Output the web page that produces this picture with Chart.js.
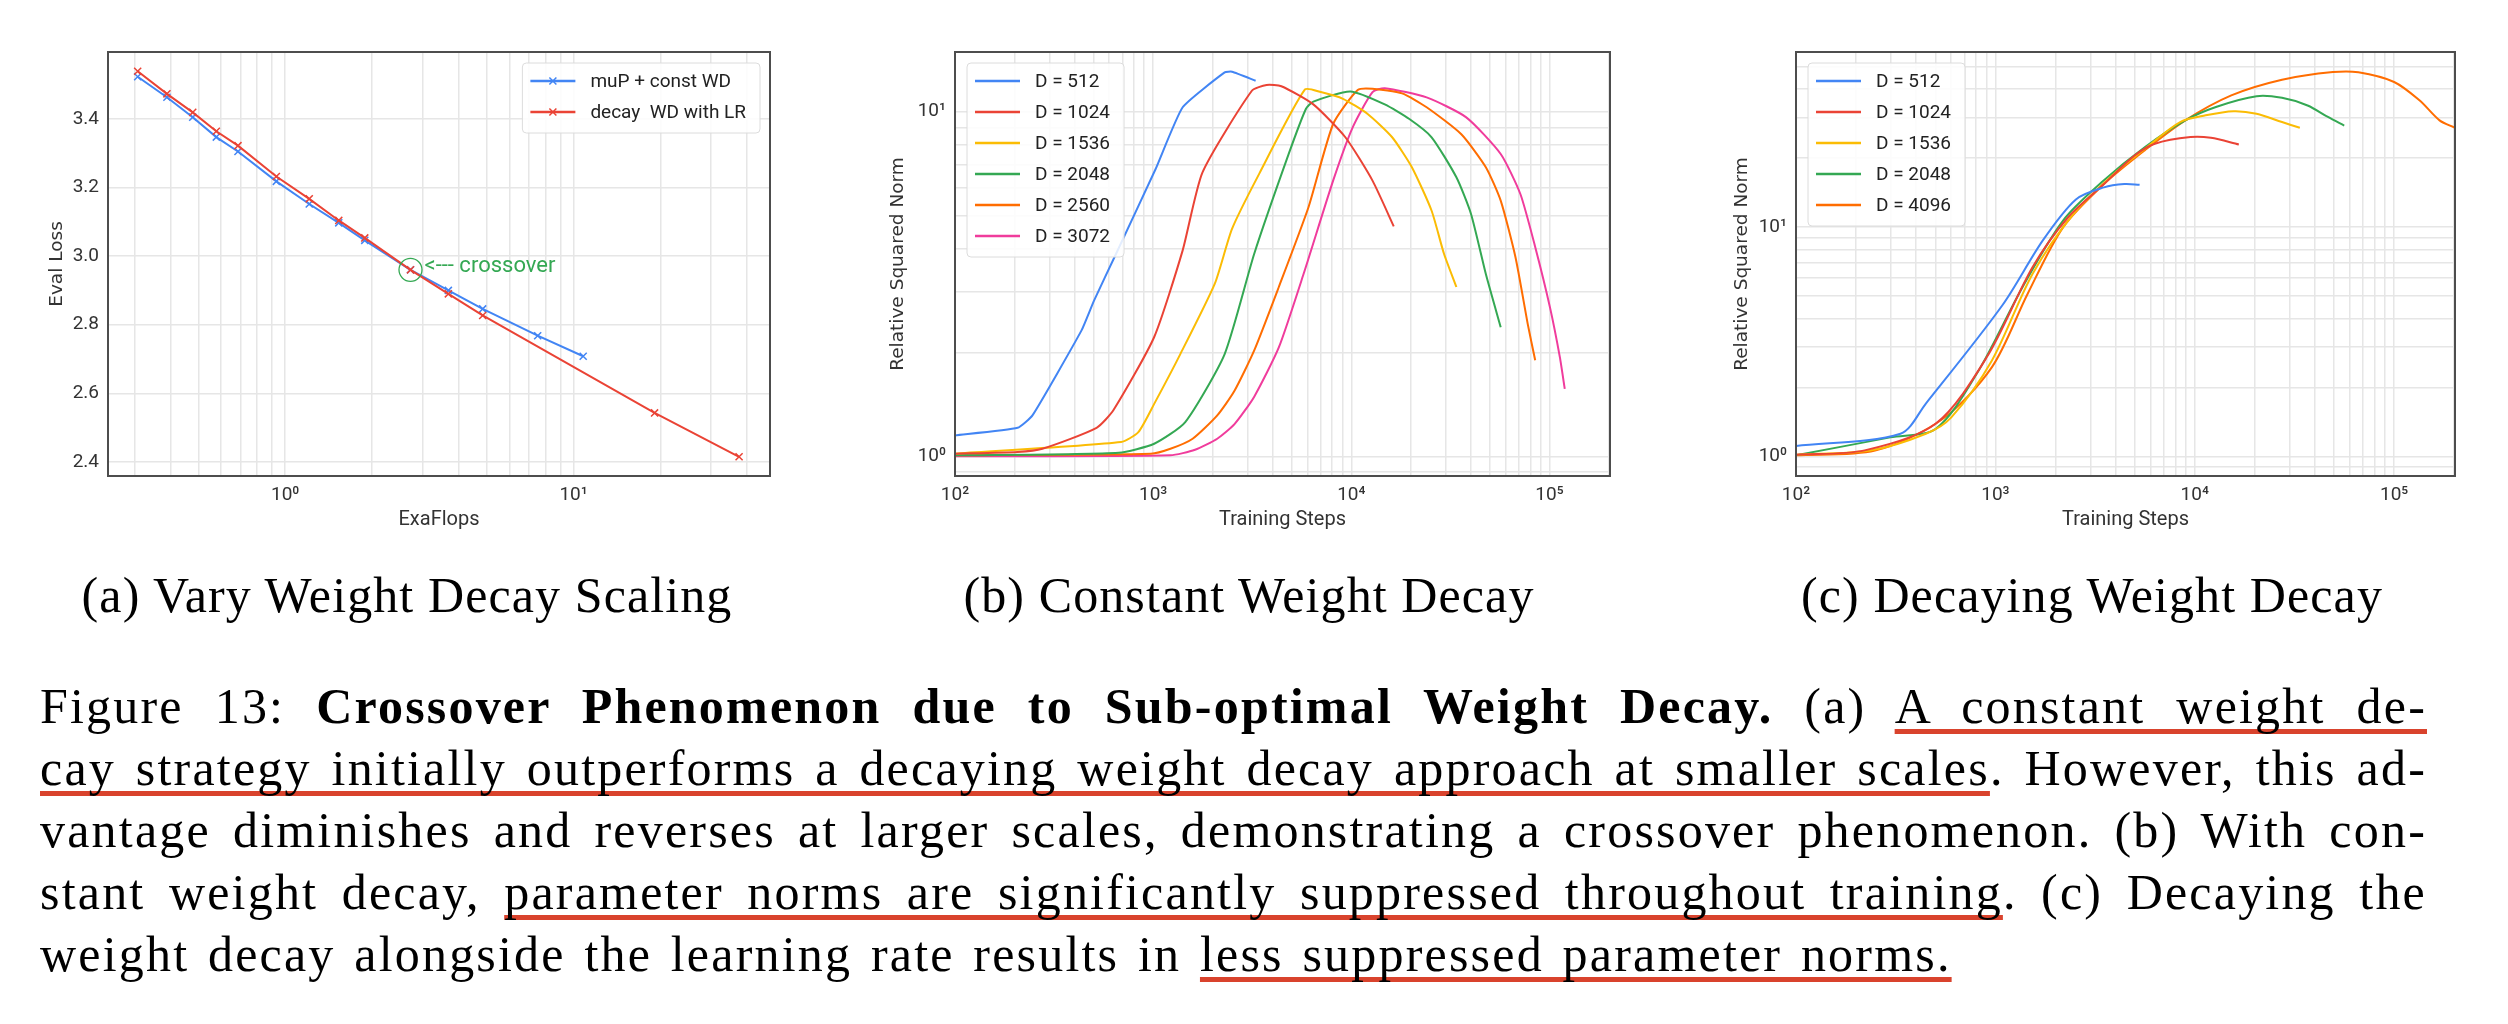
<!DOCTYPE html>
<html>
<head>
<meta charset="utf-8">
<script src="https://cdn.jsdelivr.net/npm/chart.js@4.4.1/dist/chart.umd.min.js"></script>
<style>
  body { margin: 0; width: 2508px; height: 1024px; background: #fff; position: relative; overflow: hidden; }
  canvas { position: absolute; top: 0; }
  .cap { position: absolute; top: 570px; font-family: "Liberation Serif", serif; font-size: 50px; line-height: 50px; letter-spacing: 1.1px; white-space: nowrap; transform: translateX(-50%); color: #000; }
  #text { position: absolute; left: 40px; top: 675px; width: 2387px; font-family: "Liberation Serif", serif; font-size: 50px; line-height: 62px; letter-spacing: 2.2px; word-spacing: 4px; color: #000; }
  #text div { text-align: justify; text-align-last: justify; }
  #text div.last { text-align: left; text-align-last: left; }
  .u { text-decoration: underline; text-decoration-color: #d9432d; text-decoration-thickness: 5px; text-underline-offset: 6px; text-decoration-skip-ink: none; }
</style>
</head>
<body>
<canvas id="chartA" width="790" height="560" style="left:10px"></canvas>
<canvas id="chartB" width="780" height="560" style="left:860px"></canvas>
<canvas id="chartC" width="790" height="560" style="left:1700px"></canvas>

<div class="cap" style="left:407px">(a) Vary Weight Decay Scaling</div>
<div class="cap" style="left:1249px">(b) Constant Weight Decay</div>
<div class="cap" style="left:2092px">(c) Decaying Weight Decay</div>

<div id="text">
  <div>Figure 13: <b>Crossover Phenomenon due to Sub-optimal Weight Decay.</b> (a) <span class="u">A constant weight de-</span></div>
  <div><span class="u">cay strategy initially outperforms a decaying weight decay approach at smaller scales</span>. However, this ad-</div>
  <div>vantage diminishes and reverses at larger scales, demonstrating a crossover phenomenon. (b) With con-</div>
  <div>stant weight decay, <span class="u">parameter norms are significantly suppressed throughout training</span>. (c) Decaying the</div>
  <div class="last">weight decay alongside the learning rate results in <span class="u">less suppressed parameter norms.</span></div>
</div>

<script>
// (a) eval loss vs compute
const flopsConst = [0.308, 0.389, 0.478, 0.577, 0.686, 0.932, 1.212, 1.534, 1.888, 2.72, 3.68, 4.84, 7.51, 10.8];
const lossConst  = [3.523, 3.463, 3.405, 3.347, 3.305, 3.218, 3.152, 3.097, 3.046, 2.960, 2.900, 2.846, 2.768, 2.708];
const flopsDecay = [0.308, 0.389, 0.478, 0.577, 0.686, 0.932, 1.212, 1.534, 1.888, 2.72, 3.68, 4.84, 19.1, 37.5];
const lossDecay  = [3.539, 3.473, 3.419, 3.364, 3.322, 3.232, 3.167, 3.104, 3.053, 2.960, 2.890, 2.827, 2.543, 2.415];
const lossTicks = [2.4, 2.6, 2.8, 3.0, 3.2, 3.4];
const crossover = [2.72, 2.96];

// (b) constant weight decay
const stepsB512  = [100, 207, 246, 435, 503, 650, 1029, 1409, 2295, 2500, 3289];
const normB512   = [1.15, 1.21, 1.315, 2.32, 2.83, 3.87, 6.82, 10.3, 13.0, 13.06, 12.3];
const stepsB1024 = [100, 207, 276, 518, 632, 1012, 1409, 1774, 3148, 3736, 4436, 6430, 9330, 12790, 16370];
const normB1024  = [1.018, 1.03, 1.052, 1.21, 1.365, 2.22, 3.96, 6.67, 11.5, 11.95, 11.85, 10.5, 8.43, 6.31, 4.65];
const stepsB1536 = [100, 689, 842, 1012, 1371, 2047, 2500, 3427, 5836, 7015, 9077, 12090, 16070, 20210, 25420, 29350, 33900];
const normB1536  = [1.018, 1.10, 1.176, 1.42, 1.98, 3.17, 4.57, 6.6, 11.6, 11.4, 10.9, 9.85, 8.43, 6.9, 5.16, 3.87, 3.10];
const stepsB2048 = [100, 670, 1012, 1452, 2295, 3236, 4830, 5905, 6430, 9885, 14750, 19630, 25420, 33900, 40180, 47730, 56730];
const normB2048  = [1.007, 1.025, 1.088, 1.257, 1.98, 3.87, 7.54, 10.2, 10.7, 11.45, 10.5, 9.52, 8.43, 6.45, 5.05, 3.38, 2.37];
const stepsB2560 = [100, 973, 1222, 1582, 2106, 2573, 3236, 4306, 6078, 8094, 10770, 12790, 18030, 23990, 35890, 47730, 56730, 67360, 77680, 84700];
const normB2560  = [1.007, 1.018, 1.052, 1.125, 1.315, 1.55, 2.03, 3.1, 5.28, 9.21, 11.56, 11.65, 11.3, 10.3, 8.6, 6.9, 5.52, 3.78, 2.42, 1.90];
const stepsB3072 = [100, 1222, 1627, 2106, 2573, 3236, 4306, 5740, 8094, 10160, 12790, 14750, 23990, 38020, 56730, 71290, 84700, 100500, 112800, 119400];
const normB3072  = [1.0, 1.007, 1.045, 1.125, 1.24, 1.49, 2.07, 3.38, 6.31, 9.01, 11.4, 11.7, 11.0, 9.63, 7.54, 5.77, 4.05, 2.71, 1.94, 1.57];

// (c) decaying weight decay
const stepsC512  = [100, 334, 448, 1082, 1730, 2535, 3505, 4437, 5290];
const normC512   = [1.11, 1.255, 1.70, 4.55, 8.75, 13.2, 14.9, 15.4, 15.3];
const stepsC1024 = [100, 221, 503, 906, 1538, 2321, 3505, 4990, 6310, 9520, 12050, 16640];
const normC1024  = [1.017, 1.062, 1.39, 2.71, 6.69, 11.06, 15.4, 20.5, 23.1, 24.7, 24.5, 22.9];
const stepsC1536 = [100, 235, 448, 601, 961, 1538, 2460, 3945, 5610, 8450, 11350, 15670, 20420, 27390, 33660];
const normC1536  = [1.017, 1.06, 1.255, 1.48, 2.62, 6.26, 11.4, 17.1, 21.9, 28.7, 30.7, 32.0, 31.2, 28.7, 27.1];
const stepsC2048 = [100, 297, 503, 806, 1368, 2190, 3505, 5610, 8970, 12770, 20420, 27390, 36810, 46560, 56200];
const normC2048  = [1.01, 1.21, 1.32, 2.29, 5.47, 10.7, 16.0, 22.3, 29.2, 33.4, 37.2, 36.6, 33.9, 30.2, 27.7];
const stepsC4096 = [100, 249, 535, 961, 1452, 2190, 3505, 5610, 8970, 15250, 27390, 49320, 66220, 100000, 134000, 169000, 202000];
const normC4096  = [1.01, 1.06, 1.44, 2.45, 5.12, 10.0, 15.4, 21.6, 29.2, 37.5, 43.9, 47.4, 47.3, 42.9, 35.7, 29.2, 27.1];

const BLUE = '#4285F4', RED = '#EA4335', YELLOW = '#FBBC04', GREEN = '#34A853', ORANGE = '#FF6D01', PINK = '#F03C9C';

Chart.defaults.font.family = 'Roboto';
Chart.defaults.color = '#333';

// helpers
const SUP = { '-': '⁻', '0': '⁰', '1': '¹', '2': '²', '3': '³', '4': '⁴', '5': '⁵', '6': '⁶', '7': '⁷', '8': '⁸', '9': '⁹' };
function isPow10(v) {
  const e = Math.round(Math.log10(v));
  return Math.abs(v - Math.pow(10, e)) < 1e-9 * v;
}
function powLabel(v) {
  if (!isPow10(v)) return '';
  return '10' + String(Math.round(Math.log10(v))).split('').map(c => SUP[c]).join('');
}
function logTicks(min, max) {
  const t = [];
  for (let e = Math.floor(Math.log10(min)); e <= Math.ceil(Math.log10(max)); e++) {
    for (let m = 1; m <= 9; m++) {
      const v = m * Math.pow(10, e);
      if (v >= min * 0.999 && v <= max * 1.001) t.push({ value: v });
    }
  }
  return t;
}
function pts(xs, ys) {
  return xs.map((x, i) => ({ x: x, y: ys[i] }));
}

// frame around the plot area
const frame = {
  id: 'frame',
  afterDraw(chart) {
    const { ctx, chartArea: a } = chart;
    ctx.save();
    ctx.strokeStyle = '#4d4d4d';
    ctx.lineWidth = 2;
    ctx.strokeRect(a.left, a.top, a.width, a.height);
    ctx.restore();
  }
};

// legend drawn inside the plot, matplotlib style
const boxLegend = {
  id: 'boxLegend',
  afterDatasetsDraw(chart, args, o) {
    const { ctx, chartArea: a } = chart;
    const sets = chart.data.datasets;
    ctx.save();
    ctx.font = '19px Roboto';
    const tw = Math.max(...sets.map(d => ctx.measureText(d.label).width));
    const w = 68 + tw + 14, h = sets.length * 31 + 8;
    const x = o.side === 'right' ? a.right - 10 - w : a.left + 12;
    const y = a.top + 11;
    ctx.beginPath();
    ctx.roundRect(x, y, w, h, 4);
    ctx.fillStyle = 'rgba(255,255,255,0.85)';
    ctx.fill();
    ctx.strokeStyle = '#dcdcdc';
    ctx.lineWidth = 1;
    ctx.stroke();
    sets.forEach((d, i) => {
      const cy = y + 18 + i * 31;
      ctx.strokeStyle = d.borderColor;
      ctx.lineWidth = 2.5;
      ctx.beginPath();
      ctx.moveTo(x + 8, cy);
      ctx.lineTo(x + 53, cy);
      ctx.stroke();
      if (o.marker) {
        const mx = x + 30.5, r = 3.5;
        ctx.lineWidth = 1.5;
        ctx.beginPath();
        ctx.moveTo(mx - r, cy - r); ctx.lineTo(mx + r, cy + r);
        ctx.moveTo(mx - r, cy + r); ctx.lineTo(mx + r, cy - r);
        ctx.stroke();
      }
      ctx.fillStyle = '#222';
      ctx.textBaseline = 'middle';
      ctx.fillText(d.label, x + 68, cy + 1);
    });
    ctx.restore();
  }
};

// circle + note at the crossover point
const crossNote = {
  id: 'crossNote',
  afterDatasetsDraw(chart) {
    const { ctx, scales } = chart;
    const px = scales.x.getPixelForValue(crossover[0]);
    const py = scales.y.getPixelForValue(crossover[1]);
    ctx.save();
    ctx.strokeStyle = GREEN;
    ctx.lineWidth = 1.3;
    ctx.beginPath();
    ctx.arc(px, py, 11.5, 0, Math.PI * 2);
    ctx.stroke();
    ctx.fillStyle = GREEN;
    ctx.font = '22px Roboto';
    ctx.textBaseline = 'middle';
    ctx.fillText('<--- crossover', px + 14, py - 3);
    ctx.restore();
  }
};

function gridOpts() {
  return { color: '#e6e6e6', lineWidth: 1.5, drawTicks: false };
}

function logX(min, max, title, titlePad) {
  return {
    type: 'logarithmic', min: min, max: max,
    afterBuildTicks: s => { s.ticks = logTicks(s.min, s.max); },
    afterFit: s => { s.height = 84; },
    grid: gridOpts(),
    border: { display: false },
    ticks: { autoSkip: false, maxRotation: 0, padding: 8, font: { size: 19 }, callback: v => powLabel(v) },
    title: { display: true, text: title, font: { size: 20, lineHeight: 1.2 }, padding: { top: 0, bottom: titlePad } }
  };
}

function logY(min, max, width, titlePad) {
  return {
    type: 'logarithmic', min: min, max: max,
    afterBuildTicks: s => { s.ticks = logTicks(s.min, s.max); },
    afterFit: s => { s.width = width; },
    grid: gridOpts(),
    border: { display: false },
    ticks: { autoSkip: false, padding: 9, font: { size: 19 }, callback: v => powLabel(v) },
    title: { display: true, text: 'Relative Squared Norm', font: { family: 'DejaVu Sans', size: 18.5, lineHeight: 1.2 }, padding: { top: titlePad, bottom: 0 } }
  };
}

function lineSet(label, color, xs, ys, tension) {
  return { label: label, data: pts(xs, ys), borderColor: color, backgroundColor: color, borderWidth: 2, pointRadius: 0, tension: tension };
}

// (a)
new Chart(document.getElementById('chartA'), {
  type: 'line',
  data: {
    datasets: [
      { label: 'muP + const WD', data: pts(flopsConst, lossConst), borderColor: BLUE, backgroundColor: BLUE, borderWidth: 2, pointStyle: 'crossRot', pointRadius: 5, pointBorderWidth: 1.5, order: 1 },
      { label: 'decay  WD with LR', data: pts(flopsDecay, lossDecay), borderColor: RED, backgroundColor: RED, borderWidth: 2, pointStyle: 'crossRot', pointRadius: 5, pointBorderWidth: 1.5, order: 0 }
    ]
  },
  options: {
    responsive: false, animation: false,
    layout: { padding: { top: 52, right: 30, left: 0, bottom: 0 } },
    plugins: { legend: { display: false }, tooltip: { enabled: false }, boxLegend: { side: 'right', marker: true } },
    scales: {
      x: logX(0.243, 48, 'ExaFlops', 28),
      y: {
        type: 'linear', min: 2.359, max: 3.595,
        afterBuildTicks: s => { s.ticks = lossTicks.map(v => ({ value: v })); },
        afterFit: s => { s.width = 98; },
        grid: gridOpts(),
        border: { display: false },
        ticks: { padding: 9, font: { size: 19 }, callback: v => v.toFixed(1) },
        title: { display: true, text: 'Eval Loss', font: { family: 'DejaVu Sans', size: 18.5, lineHeight: 1.2 }, padding: { top: 36, bottom: 0 } }
      }
    }
  },
  plugins: [boxLegend, crossNote, frame]
});

// (b)
new Chart(document.getElementById('chartB'), {
  type: 'line',
  data: {
    datasets: [
      lineSet('D = 512', BLUE, stepsB512, normB512, 0.15),
      lineSet('D = 1024', RED, stepsB1024, normB1024, 0.2),
      lineSet('D = 1536', YELLOW, stepsB1536, normB1536, 0.2),
      lineSet('D = 2048', GREEN, stepsB2048, normB2048, 0.2),
      lineSet('D = 2560', ORANGE, stepsB2560, normB2560, 0.2),
      lineSet('D = 3072', PINK, stepsB3072, normB3072, 0.2)
    ]
  },
  options: {
    responsive: false, animation: false,
    layout: { padding: { top: 52, right: 30, left: 0, bottom: 0 } },
    plugins: { legend: { display: false }, tooltip: { enabled: false }, boxLegend: { side: 'left' } },
    scales: {
      x: logX(100, 2.02e5, 'Training Steps', 28),
      y: logY(0.877, 14.9, 95, 27)
    }
  },
  plugins: [boxLegend, frame]
});

// (c)
new Chart(document.getElementById('chartC'), {
  type: 'line',
  data: {
    datasets: [
      lineSet('D = 512', BLUE, stepsC512, normC512, 0.3),
      lineSet('D = 1024', RED, stepsC1024, normC1024, 0.3),
      lineSet('D = 1536', YELLOW, stepsC1536, normC1536, 0.3),
      lineSet('D = 2048', GREEN, stepsC2048, normC2048, 0.3),
      lineSet('D = 4096', ORANGE, stepsC4096, normC4096, 0.3)
    ]
  },
  options: {
    responsive: false, animation: false,
    layout: { padding: { top: 52, right: 35, left: 0, bottom: 0 } },
    plugins: { legend: { display: false }, tooltip: { enabled: false }, boxLegend: { side: 'left' } },
    scales: {
      x: logX(100, 2.02e5, 'Training Steps', 28),
      y: logY(0.821, 58, 96, 31)
    }
  },
  plugins: [boxLegend, frame]
});
</script>
</body>
</html>
